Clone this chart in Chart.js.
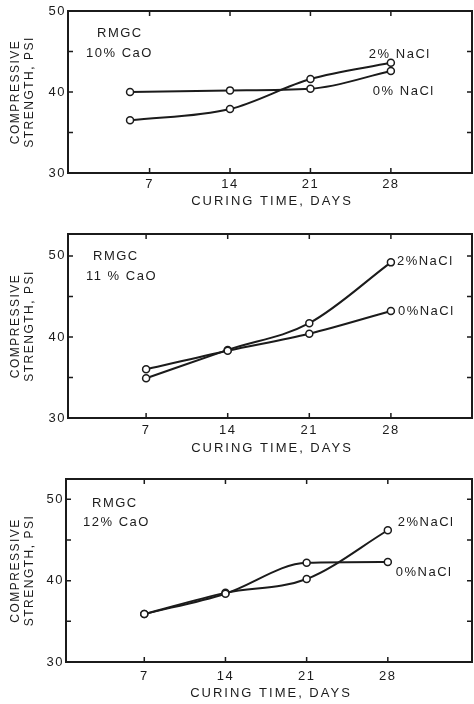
<!DOCTYPE html>
<html>
<head>
<meta charset="utf-8">
<script src="https://cdn.jsdelivr.net/npm/chart.js@4.4.1/dist/chart.umd.min.js"></script>
<style>
  body { margin: 0; background: #fff; overflow: hidden; }
  canvas { position: absolute; left: 0; }
</style>
</head>
<body>
<canvas id="c10" width="474" height="220" style="top:0px"></canvas>
<canvas id="c11" width="474" height="240" style="top:220px"></canvas>
<canvas id="c12" width="474" height="244" style="top:460px"></canvas>
<script>
// curing days (the first 10% CaO test sits left of the day-7 tick in the figure)
const days = [7, 14, 21, 28];
const days10 = [5.3, 14, 21, 28];
const xTicks = [7, 14, 21, 28];
const yTicks = [30, 35, 40, 45, 50];

// compressive strength, psi
const cao10_nacl0 = [40.0, 40.2, 40.4, 42.6];
const cao10_nacl2 = [36.5, 37.9, 41.6, 43.6];
const cao11_nacl0 = [36.0, 38.3, 40.4, 43.2];
const cao11_nacl2 = [34.9, 38.4, 41.7, 49.2];
const cao12_nacl0 = [35.9, 38.4, 42.2, 42.3];
const cao12_nacl2 = [35.9, 38.5, 40.2, 46.2];

const ink = '#1b1b1b';
const fam = '"Liberation Sans", Arial, sans-serif';

const framePlugin = {
    id: 'frame',
    beforeDraw(chart) {
        chart.ctx.letterSpacing = '1.5px';
    },
    afterDraw(chart, args, opts) {
        const { ctx, chartArea: a, scales: { x, y } } = chart;
        ctx.save();
        ctx.strokeStyle = ink;
        ctx.lineWidth = 2;
        ctx.strokeRect(a.left, a.top, opts.right - a.left, a.bottom - a.top);

        // inward tick marks on all four sides
        ctx.lineWidth = 1.5;
        ctx.beginPath();
        x.ticks.forEach((t) => {
            const px = x.getPixelForValue(t.value);
            ctx.moveTo(px, a.bottom);
            ctx.lineTo(px, a.bottom - 5);
            ctx.moveTo(px, a.top);
            ctx.lineTo(px, a.top + 5);
        });
        y.ticks.forEach((t) => {
            const py = y.getPixelForValue(t.value);
            ctx.moveTo(a.left, py);
            ctx.lineTo(a.left + 5, py);
            ctx.moveTo(opts.right, py);
            ctx.lineTo(opts.right - 5, py);
        });
        ctx.stroke();

        ctx.fillStyle = ink;
        ctx.textBaseline = 'middle';

        // x axis title, widely spaced like the typed original
        ctx.font = '13px ' + fam;
        ctx.letterSpacing = '2px';
        ctx.textAlign = 'center';
        ctx.fillText('CURING TIME, DAYS', (a.left + opts.right) / 2 + 2, a.bottom + opts.titleDy);

        ctx.letterSpacing = '1.5px';
        ctx.textAlign = 'left';
        opts.notes.forEach((n) => {
            ctx.fillText(n.text, a.left + n.dx, a.top + n.dy);
        });
        opts.tags.forEach((tg) => {
            const d = chart.data.datasets[tg.ds].data;
            const p = d[d.length - 1];
            ctx.fillText(tg.text, x.getPixelForValue(p.x) + tg.dx, y.getPixelForValue(p.y) + tg.dy);
        });
        ctx.restore();
    },
};

const toPoints = (xs, ys) => xs.map((v, i) => ({ x: v, y: ys[i] }));

const series = (data) => ({
    data: data,
    borderColor: ink,
    borderWidth: 2,
    cubicInterpolationMode: 'monotone',
    pointRadius: 3.5,
    pointHoverRadius: 3.5,
    pointBorderWidth: 1.5,
    pointBackgroundColor: '#fff',
    pointBorderColor: ink,
});

function makePanel(id, p) {
    return new Chart(document.getElementById(id), {
        type: 'line',
        data: {
            datasets: [series(toPoints(p.xs, p.s0)), series(toPoints(p.xs, p.s2))],
        },
        plugins: [framePlugin],
        options: {
            responsive: false,
            animation: false,
            devicePixelRatio: 1,
            layout: { padding: { top: p.top, right: 0, bottom: 0, left: 0 } },
            plugins: {
                legend: { display: false },
                tooltip: { enabled: false },
                frame: { notes: p.notes, tags: p.tags, right: 472, titleDy: p.titleDy },
            },
            scales: {
                x: {
                    type: 'linear',
                    min: p.xmin,
                    max: p.xmax,
                    grid: { display: false, tickLength: 0 },
                    border: { display: false },
                    afterBuildTicks: (s) => { s.ticks = xTicks.map((v) => ({ value: v })); },
                    afterFit: (s) => { s.height = p.xh; },
                    ticks: { color: ink, font: { family: fam, size: 13 }, padding: p.xpad },
                },
                y: {
                    type: 'linear',
                    min: 30,
                    max: p.ymax,
                    grid: { display: false, tickLength: 0 },
                    border: { display: false },
                    afterBuildTicks: (s) => { s.ticks = yTicks.map((v) => ({ value: v })); },
                    afterFit: (s) => { s.width = p.left; },
                    ticks: {
                        color: ink,
                        font: { family: fam, size: 13 },
                        padding: 2,
                        callback: (v) => (v % 10 === 0 ? v : ''),
                    },
                    title: {
                        display: true,
                        text: ['COMPRESSIVE', 'STRENGTH, PSI'],
                        color: ink,
                        font: { family: fam, size: 12 },
                        padding: { top: 8, bottom: 0 },
                    },
                },
            },
        },
    });
}

makePanel('c10', {
    xs: days10, s0: cao10_nacl0, s2: cao10_nacl2,
    top: 11, left: 68, xh: 47, xpad: 4, titleDy: 28,
    xmin: -0.1, xmax: 34.8, ymax: 50,
    notes: [{ text: 'RMGC', dx: 29, dy: 22 }, { text: '10% CaO', dx: 18, dy: 42 }],
    tags: [{ ds: 1, text: '2% NaCl', dx: -22, dy: -8 }, { ds: 0, text: '0% NaCl', dx: -18, dy: 20 }],
});

makePanel('c11', {
    xs: days, s0: cao11_nacl0, s2: cao11_nacl2,
    top: 14, left: 68, xh: 42, xpad: 5, titleDy: 30,
    xmin: 0.3, xmax: 34.7, ymax: 52.7,
    notes: [{ text: 'RMGC', dx: 25, dy: 22 }, { text: '11 % CaO', dx: 18, dy: 42 }],
    tags: [{ ds: 1, text: '2%NaCl', dx: 6, dy: -1 }, { ds: 0, text: '0%NaCl', dx: 7, dy: 0 }],
});

makePanel('c12', {
    xs: days, s0: cao12_nacl0, s2: cao12_nacl2,
    top: 19, left: 66, xh: 42, xpad: 7, titleDy: 31,
    xmin: 0.25, xmax: 35, ymax: 52.5,
    notes: [{ text: 'RMGC', dx: 26, dy: 24 }, { text: '12% CaO', dx: 17, dy: 43 }],
    tags: [{ ds: 1, text: '2%NaCl', dx: 10, dy: -8 }, { ds: 0, text: '0%NaCl', dx: 8, dy: 10 }],
});
</script>
</body>
</html>
